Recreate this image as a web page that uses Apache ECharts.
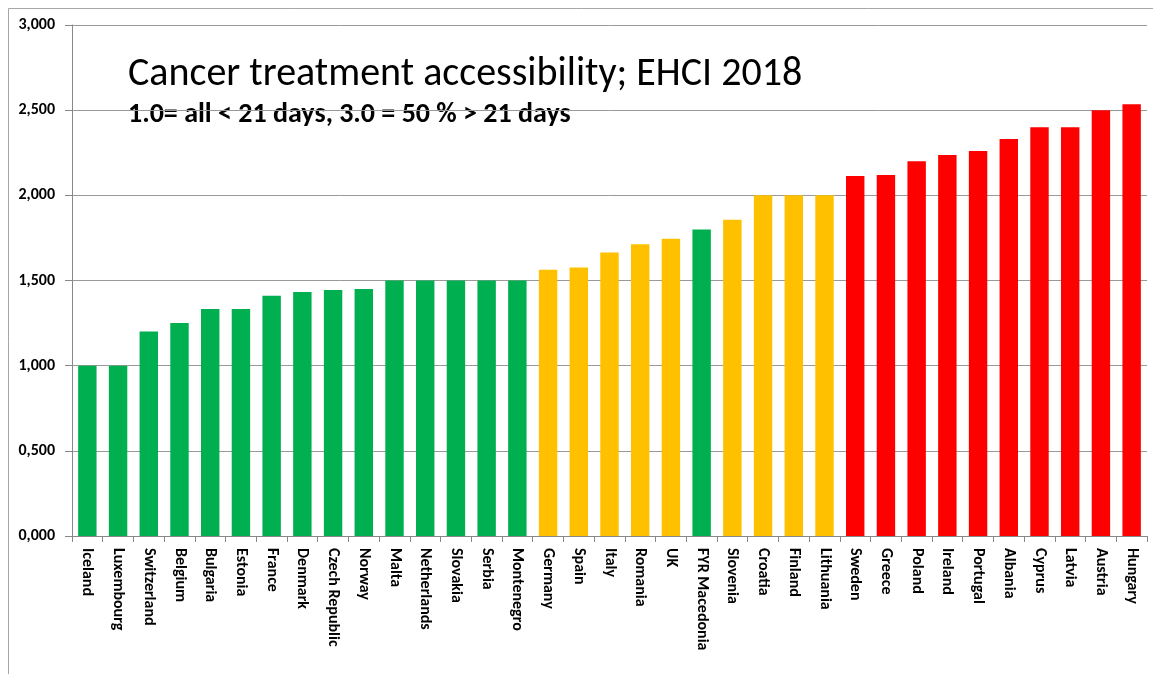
<!DOCTYPE html>
<html>
<head>
<meta charset="utf-8">
<script src="https://cdn.jsdelivr.net/npm/echarts@6/dist/echarts.min.js"></script>
<style>
  html, body { margin: 0; padding: 0; background: #fff; }
  #chart { width: 1153px; height: 674px; }
</style>
</head>
<body>
<div id="chart"></div>
<script>
// Cancer treatment accessibility; EHCI 2018
const countries = [
  'Iceland', 'Luxembourg', 'Switzerland', 'Belgium', 'Bulgaria', 'Estonia', 'France', 'Denmark',
  'Czech Republic', 'Norway', 'Malta', 'Netherlands', 'Slovakia', 'Serbia', 'Montenegro',
  'Germany', 'Spain', 'Italy', 'Romania', 'UK', 'FYR Macedonia', 'Slovenia', 'Croatia',
  'Finland', 'Lithuania', 'Sweden', 'Greece', 'Poland', 'Ireland', 'Portugal', 'Albania',
  'Cyprus', 'Latvia', 'Austria', 'Hungary'
]
const scores = [
  1.0, 1.0, 1.2, 1.25, 1.333, 1.333, 1.41, 1.433,
  1.444, 1.45, 1.5, 1.5, 1.5, 1.5, 1.5,
  1.563, 1.577, 1.665, 1.713, 1.745, 1.8, 1.857, 2.0,
  2.0, 2.0, 2.114, 2.12, 2.2, 2.237, 2.26, 2.33,
  2.4, 2.4, 2.5, 2.535
]
// g = green, y = amber, r = red
const groups = [
  'g', 'g', 'g', 'g', 'g', 'g', 'g', 'g',
  'g', 'g', 'g', 'g', 'g', 'g', 'g',
  'y', 'y', 'y', 'y', 'y', 'g', 'y', 'y',
  'y', 'y', 'r', 'r', 'r', 'r', 'r', 'r',
  'r', 'r', 'r', 'r'
]
const yTicks = [0, 0.5, 1, 1.5, 2, 2.5, 3]

const palette = { g: '#00B050', y: '#FFC000', r: '#FF0000' }
const font = 'Carlito, Calibri, "Open Sans", sans-serif'

const chart = echarts.init(document.getElementById('chart'))
const option = {
  animation: false,
  graphic: [
    {
      type: 'rect',
      shape: { x: 8.5, y: 8.5, width: 1150, height: 670 },
      style: { fill: 'none', stroke: '#a6a6a6', lineWidth: 1 },
      silent: true
    },
    {
      type: 'text',
      left: 128,
      top: 55,
      style: { text: 'Cancer treatment accessibility; EHCI 2018', font: '40px ' + font, fill: '#000' }
    },
    {
      type: 'text',
      left: 128,
      top: 101,
      style: { text: '1.0= all < 21 days, 3.0 = 50 % > 21 days', font: 'bold 28px ' + font, fill: '#000' }
    }
  ],
  grid: { left: 72, right: 6, top: 25, bottom: 138, containLabel: false },
  xAxis: {
    type: 'category',
    data: countries,
    axisLine: { lineStyle: { color: '#888', width: 1 } },
    axisTick: { show: true, length: 6, alignWithLabel: false, lineStyle: { color: '#888' } },
    axisLabel: {
      rotate: -90,
      interval: 0,
      margin: 12,
      color: '#000',
      fontWeight: 'bold',
      fontSize: 16,
      fontFamily: font
    }
  },
  yAxis: {
    type: 'value',
    min: yTicks[0],
    max: yTicks[yTicks.length - 1],
    interval: 0.5,
    axisLine: { show: true, lineStyle: { color: '#888', width: 1 } },
    axisTick: { show: true, length: 7, lineStyle: { color: '#888' } },
    splitLine: { lineStyle: { color: '#999', width: 1 } },
    axisLabel: {
      margin: 17,
      color: '#000',
      fontWeight: 'bold',
      fontSize: 16,
      fontFamily: font,
      formatter: (v) => v.toFixed(3).replace('.', ',')
    }
  },
  series: [
    {
      type: 'bar',
      barWidth: '60%',
      data: scores.map((v, i) => ({ value: v, itemStyle: { color: palette[groups[i]] } }))
    }
  ]
}
chart.setOption(option)
</script>
</body>
</html>
